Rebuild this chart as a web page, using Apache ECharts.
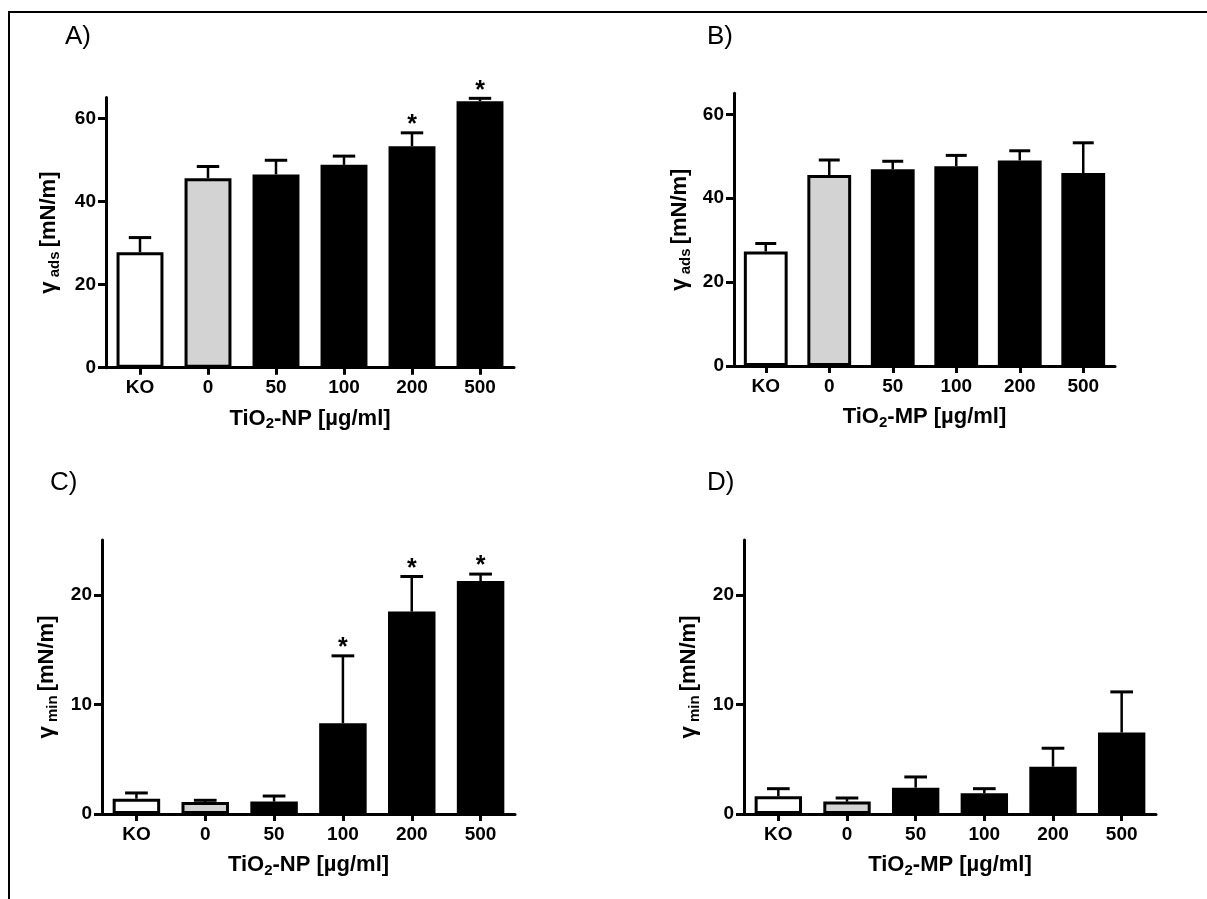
<!DOCTYPE html>
<html><head><meta charset="utf-8">
<script src="https://cdn.jsdelivr.net/npm/echarts@6/dist/echarts.min.js"></script>
<style>html,body{margin:0;padding:0;background:#fff}#c{width:1207px;height:899px}</style>
</head><body><div id="c"></div>
<script>
// ---- data ----
const categories = ['KO', '0', '50', '100', '200', '500'];
const adsNP    = [27.8, 45.6, 46.5, 48.8, 53.3, 64.1];
const adsNPErr = [3.5, 2.8, 3.4, 2.1, 3.2, 0.7];
const adsNPSig = [0, 0, 0, 0, 1, 1];
const adsMP    = [27.3, 45.5, 46.9, 47.6, 49.0, 46.0];
const adsMPErr = [1.9, 3.6, 1.9, 2.6, 2.3, 7.2];
const adsMPSig = [0, 0, 0, 0, 0, 0];
const minNP    = [1.40, 1.10, 1.13, 8.28, 18.47, 21.25];
const minNPErr = [0.52, 0.15, 0.51, 6.15, 3.20, 0.64];
const minNPSig = [0, 0, 0, 1, 1, 1];
const minMP    = [1.61, 1.13, 2.40, 1.89, 4.32, 7.43];
const minMPErr = [0.70, 0.33, 0.98, 0.42, 1.68, 3.71];
const minMPSig = [0, 0, 0, 0, 0, 0];
const adsTicks = [0, 20, 40, 60];
const minTicks = [0, 10, 20];
const adsMax = 65;
const minMax = 25;
const panelLabels = ['A)', 'B)', 'C)', 'D)'];

// ---- style ----
const FONT = '"Liberation Sans", Arial, Helvetica, sans-serif';
const fills = ['#ffffff', '#d3d3d3', '#000000', '#000000', '#000000', '#000000'];

const panels = [
  { grid: {left: 106, top: 97.5, width: 408, height: 270.2}, vals: adsNP, errs: adsNPErr, sig: adsNPSig,
    max: adsMax, ticks: adsTicks, ysub: 'ads', xmat: 'NP', yGap: 44,
    label: {x: 65, y: 24} },
  { grid: {left: 734, top: 93.3, width: 381, height: 272.7}, vals: adsMP, errs: adsMPErr, sig: adsMPSig,
    max: adsMax, ticks: adsTicks, ysub: 'ads', xmat: 'MP', yGap: 41,
    label: {x: 707, y: 24} },
  { grid: {left: 102, top: 540, width: 413, height: 274}, vals: minNP, errs: minNPErr, sig: minNPSig,
    max: minMax, ticks: minTicks, ysub: 'min', xmat: 'NP', yGap: 42,
    label: {x: 50, y: 470} },
  { grid: {left: 744, top: 540, width: 412, height: 274}, vals: minMP, errs: minMPErr, sig: minMPSig,
    max: minMax, ticks: minTicks, ysub: 'min', xmat: 'MP', yGap: 42,
    label: {x: 707, y: 470} }
];

const grids = [], xAxes = [], yAxes = [], series = [], graphics = [];

panels.forEach((p, k) => {
  grids.push(Object.assign({containLabel: false, outerBoundsMode: 'none'}, p.grid));
  xAxes.push({
    type: 'category', gridIndex: k, data: categories,
    axisLine: {show: true, onZero: false, lineStyle: {color: '#000', width: 3}},
    axisTick: {show: true, alignWithLabel: true, length: 7, lineStyle: {color: '#000', width: 3}},
    axisLabel: {color: '#000', fontSize: 19, fontWeight: 'bold', fontFamily: FONT, margin: 11},
    splitLine: {show: false},
    name: '{m|TiO}{s|2}{m|-' + p.xmat + ' [µg/ml]}',
    nameLocation: 'middle', nameGap: 38,
    nameTextStyle: {
      color: '#000', fontSize: 22, fontWeight: 'bold', fontFamily: FONT,
      rich: {
        m: {fontSize: 22, fontWeight: 'bold', fontFamily: FONT, color: '#000', lineHeight: 26},
        s: {fontSize: 15, fontWeight: 'bold', fontFamily: FONT, color: '#000', lineHeight: 9, verticalAlign: 'bottom'}
      }
    }
  });
  yAxes.push({
    type: 'value', gridIndex: k, min: 0, max: p.max,
    axisLine: {show: true, onZero: false, lineStyle: {color: '#000', width: 3}},
    axisTick: {show: true, length: 8, lineStyle: {color: '#000', width: 3}, customValues: p.ticks},
    axisLabel: {color: '#000', fontSize: 19, fontWeight: 'bold', fontFamily: FONT, margin: 10, customValues: p.ticks},
    splitLine: {show: false},
    name: '{m|γ}{a| ' + p.ysub + ' }{m|[mN/m]}',
    nameLocation: 'middle', nameRotate: 90, nameGap: p.yGap,
    nameTextStyle: {
      color: '#000', fontSize: 22, fontWeight: 'bold', fontFamily: FONT,
      rich: {
        m: {fontSize: 22, fontWeight: 'bold', fontFamily: FONT, color: '#000', lineHeight: 26},
        a: {fontSize: 15, fontWeight: 'bold', fontFamily: FONT, color: '#000', lineHeight: 18, verticalAlign: 'bottom'}
      }
    }
  });
  series.push({
    type: 'bar', xAxisIndex: k, yAxisIndex: k, barCategoryGap: '31%', silent: true,
    itemStyle: {borderColor: '#000', borderWidth: 3},
    data: p.vals.map((v, i) => ({value: v, itemStyle: {color: fills[i]}})),
    z: 2
  });
  series.push({
    type: 'custom', xAxisIndex: k, yAxisIndex: k, silent: true, z: 4,
    encode: {x: 0, y: 1},
    data: p.vals.map((v, i) => [i, v, p.errs[i], p.sig[i]]),
    renderItem: function (params, api) {
      const idx = api.value(0), v = api.value(1), e = api.value(2), s = api.value(3);
      const base = api.coord([idx, v]);
      const top = api.coord([idx, v + e]);
      const half = api.size([1, 0])[0] * 0.165;
      const children = [
        {type: 'line', shape: {x1: base[0], y1: base[1], x2: top[0], y2: top[1]},
         style: {stroke: '#000', lineWidth: 2.5}},
        {type: 'line', shape: {x1: top[0] - half, y1: top[1], x2: top[0] + half, y2: top[1]},
         style: {stroke: '#000', lineWidth: 3}}
      ];
      if (s) {
        children.push({type: 'text', style: {text: '*', x: top[0], y: top[1] + 5,
          align: 'center', verticalAlign: 'bottom', fontSize: 25, fontWeight: 'bold',
          fontFamily: FONT, fill: '#000'}});
      }
      return {type: 'group', children: children};
    }
  });
  graphics.push({type: 'text', left: p.label.x, top: p.label.y,
    style: {text: panelLabels[k], fontSize: 26, fontFamily: FONT, fill: '#000'}});
});

graphics.push({type: 'polyline', silent: true,
  shape: {points: [[9, 899], [9, 12], [1207, 12]]},
  style: {stroke: '#000', lineWidth: 2, fill: null}});

const chart = echarts.init(document.getElementById('c'), null, {renderer: 'canvas'});
chart.setOption({
  animation: false,
  backgroundColor: '#ffffff',
  textStyle: {fontFamily: FONT},
  grid: grids, xAxis: xAxes, yAxis: yAxes, series: series, graphic: graphics
});
</script>
</body></html>
